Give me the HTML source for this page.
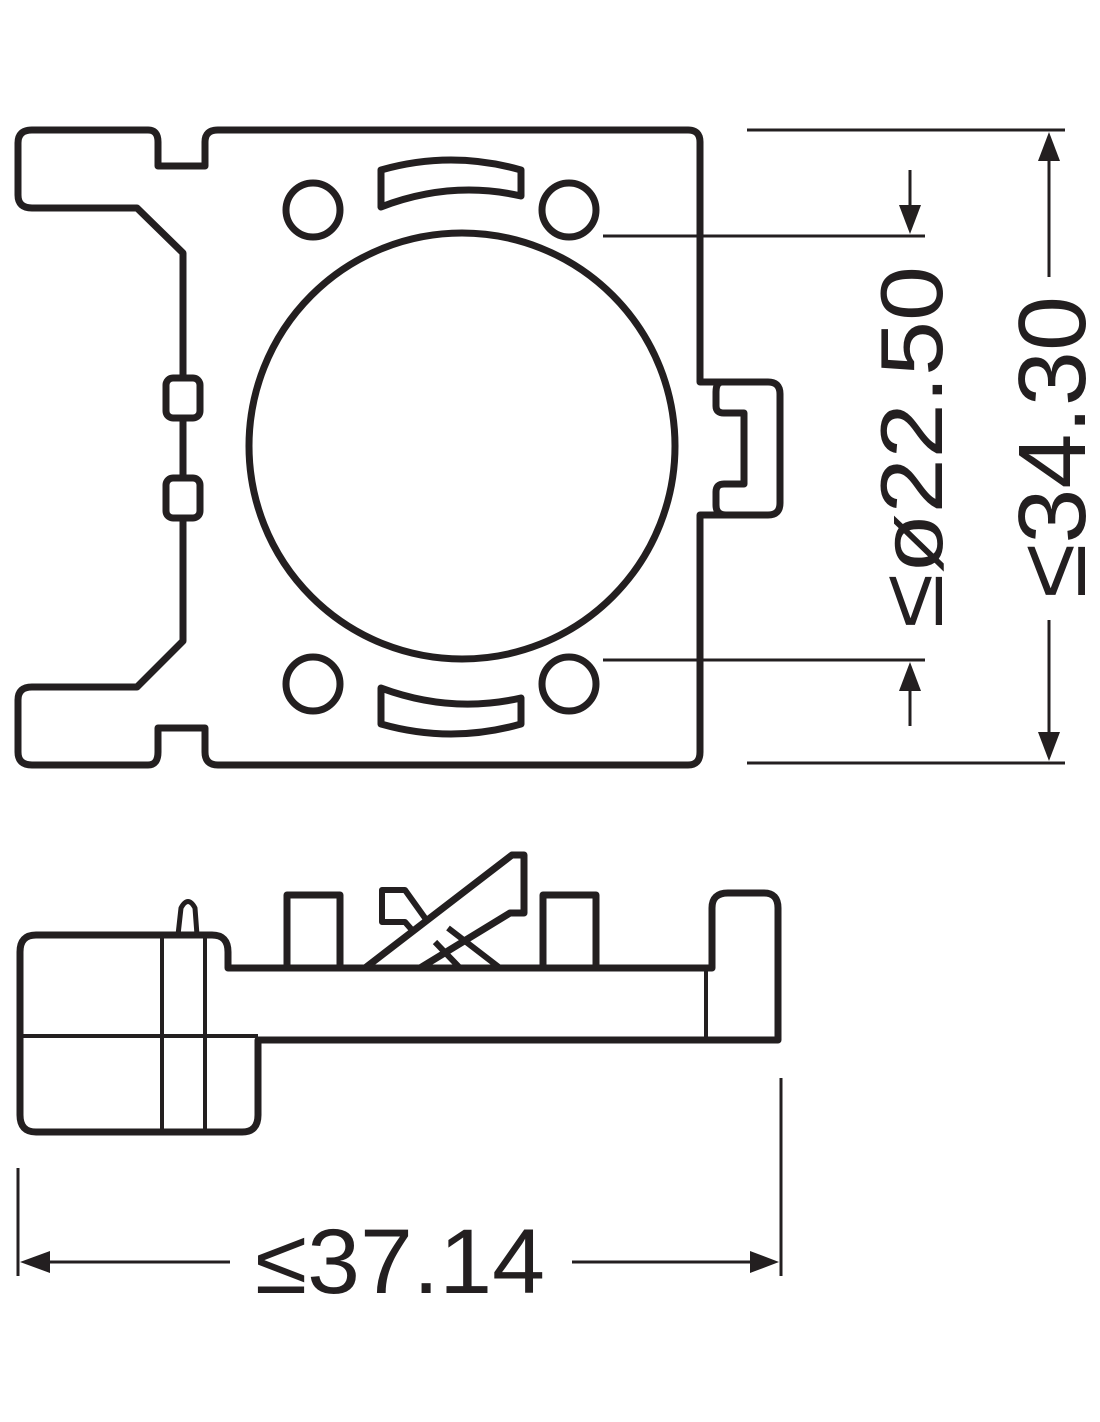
<!DOCTYPE html>
<html><head><meta charset="utf-8"><style>html,body{margin:0;padding:0;background:#fff}svg{display:block}</style></head>
<body>
<svg width="1100" height="1422" viewBox="0 0 1100 1422" xmlns="http://www.w3.org/2000/svg">
<g fill="none" stroke="#231f20" stroke-width="7" stroke-linejoin="round">
<!-- top view outline -->
<path d="M183 378 V253 L137 208 H32 Q18 208 18 195 V143 Q18 130 32 130 H148 Q158 130 158 142 V166 H205 V142 Q205 130 218 130 H688 Q700 130 700 142 V382 H768 Q780 382 780 394 V503 Q780 515 768 515 H700 V752 Q700 765 688 765 H218 Q205 765 205 752 V728 H158 V752 Q158 765 148 765 H32 Q18 765 18 752 V700 Q18 687 32 687 H137 L183 641 V518"/>
<path d="M183 478 V418"/>
<rect x="166" y="378" width="34" height="40" rx="7"/>
<rect x="166" y="478" width="34" height="40" rx="7"/>
<path d="M700 382 H722 Q716 382 716 392 V406 Q716 413 724 413 H744 V484 H724 Q716 484 716 492 V505 Q716 515 726 515"/>
<circle cx="462" cy="446" r="213"/>
<circle cx="313" cy="210" r="27"/>
<circle cx="569" cy="210" r="27"/>
<circle cx="313" cy="684" r="27"/>
<circle cx="569" cy="684" r="27"/>
<path d="M381 170 Q451 150 521 170 V196 Q451 180 381 207 Z"/>
<path d="M381 688 Q451 714 521 698 V724 Q451 744 381 724 Z"/>
<!-- side view -->
<path d="M36 935 H212 Q228 935 228 952 V968 H712 V908 Q712 893 728 893 H764 Q778 893 778 908 V1040 H258 V1115 Q258 1132 242 1132 H36 Q20 1132 20 1115 V952 Q20 935 36 935 Z"/>
<line x1="706" y1="968" x2="706" y2="1040" stroke-width="4"/>
<line x1="20" y1="1036" x2="258" y2="1036" stroke-width="4"/>
<line x1="162" y1="935" x2="162" y2="1132" stroke-width="4"/>
<line x1="205" y1="935" x2="205" y2="1132" stroke-width="4"/>
<path d="M178 935 L181 908 Q188 895 195 908 L197 935" stroke-width="5"/>
<path d="M287 968 V895 H340 V968"/>
<path d="M543 968 V895 H596 V968"/>
<path d="M365 968 L512 855 H524 V913 H510 L420 968"/>
<path d="M435 942 L460 968 M448 928 L500 968 M425 918 L405 890 H382 V922 H405 L412 930" stroke-width="6"/>
</g>
<g stroke="#231f20" stroke-width="3" fill="#231f20">
<line x1="747" y1="130" x2="1065" y2="130"/>
<line x1="747" y1="763" x2="1065" y2="763"/>
<line x1="603" y1="236" x2="925" y2="236"/>
<line x1="603" y1="660" x2="925" y2="660"/>
<line x1="910" y1="170" x2="910" y2="210"/>
<polygon points="899,205 921,205 910,234" stroke="none"/>
<line x1="910" y1="690" x2="910" y2="726"/>
<polygon points="899,691 921,691 910,662" stroke="none"/>
<line x1="1049" y1="160" x2="1049" y2="277"/>
<line x1="1049" y1="620" x2="1049" y2="735"/>
<polygon points="1038,161 1060,161 1049,132" stroke="none"/>
<polygon points="1038,732 1060,732 1049,761" stroke="none"/>
<line x1="18" y1="1168" x2="18" y2="1276"/>
<line x1="781" y1="1078" x2="781" y2="1276"/>
<line x1="48" y1="1262" x2="230" y2="1262"/>
<line x1="572" y1="1262" x2="752" y2="1262"/>
<polygon points="20,1262 50,1251 50,1273" stroke="none"/>
<polygon points="779,1262 750,1251 750,1273" stroke="none"/>
</g>
<g fill="#231f20" font-family="'Liberation Sans', sans-serif">
<text x="255" y="1293" font-size="92" textLength="290" lengthAdjust="spacingAndGlyphs">≤37.14</text>
<text transform="translate(942,628) rotate(-90)" font-size="88" textLength="362" lengthAdjust="spacingAndGlyphs">≤ø22.50</text>
<text transform="translate(1085,598) rotate(-90)" font-size="96" textLength="302" lengthAdjust="spacingAndGlyphs">≤34.30</text>
</g>
</svg>
</body></html>
